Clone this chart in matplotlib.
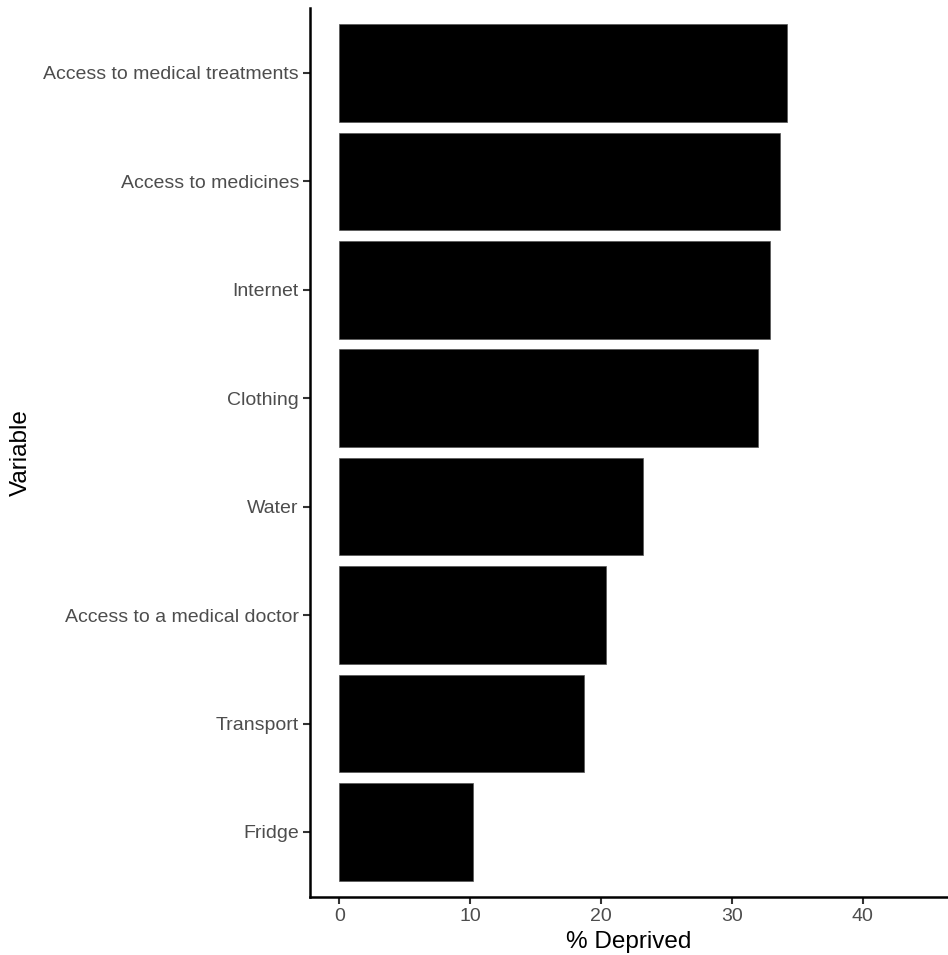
import matplotlib
matplotlib.use("Agg")
import matplotlib.pyplot as plt

categories = ["Access to medical treatments", "Access to medicines", "Internet",
              "Clothing", "Water", "Access to a medical doctor", "Transport", "Fridge"]
values = [34.2, 33.7, 32.9, 32.0, 23.2, 20.4, 18.7, 10.2]
xticks = [0, 10, 20, 30, 40]

plt.rcParams['font.family'] = ['Liberation Sans', 'DejaVu Sans']

fig = plt.figure(figsize=(9.48, 9.55), dpi=100)
ax = fig.add_axes([0.327, 0.0607, 0.673, 0.931])

n = len(categories)
ypos = list(range(n, 0, -1))
ax.barh(ypos, values, height=0.9, color="black", edgecolor="#555555", linewidth=0.5)

ax.set_ylim(0.4, n + 0.6)
ax.set_xlim(-2.25, 46.5)
ax.set_yticks(ypos)
ax.set_yticklabels(categories)
ax.set_xticks(xticks)
ax.set_xticklabels([str(t) for t in xticks])

for s in ["top", "right"]:
    ax.spines[s].set_visible(False)
for s in ["left", "bottom"]:
    ax.spines[s].set_linewidth(1.8)
    ax.spines[s].set_color("black")

ax.tick_params(axis="both", colors="#333333", length=5, width=1.5,
               labelsize=14.0, labelcolor="#4D4D4D", pad=3)

ax.set_xlabel("% Deprived", fontsize=17.5, color="black", labelpad=4)
ax.set_ylabel("Variable", fontsize=17.5, color="black")
ax.yaxis.set_label_coords((32 - 310) / (0.673 * 948), 0.5)

fig.savefig("out.png", dpi=100)
